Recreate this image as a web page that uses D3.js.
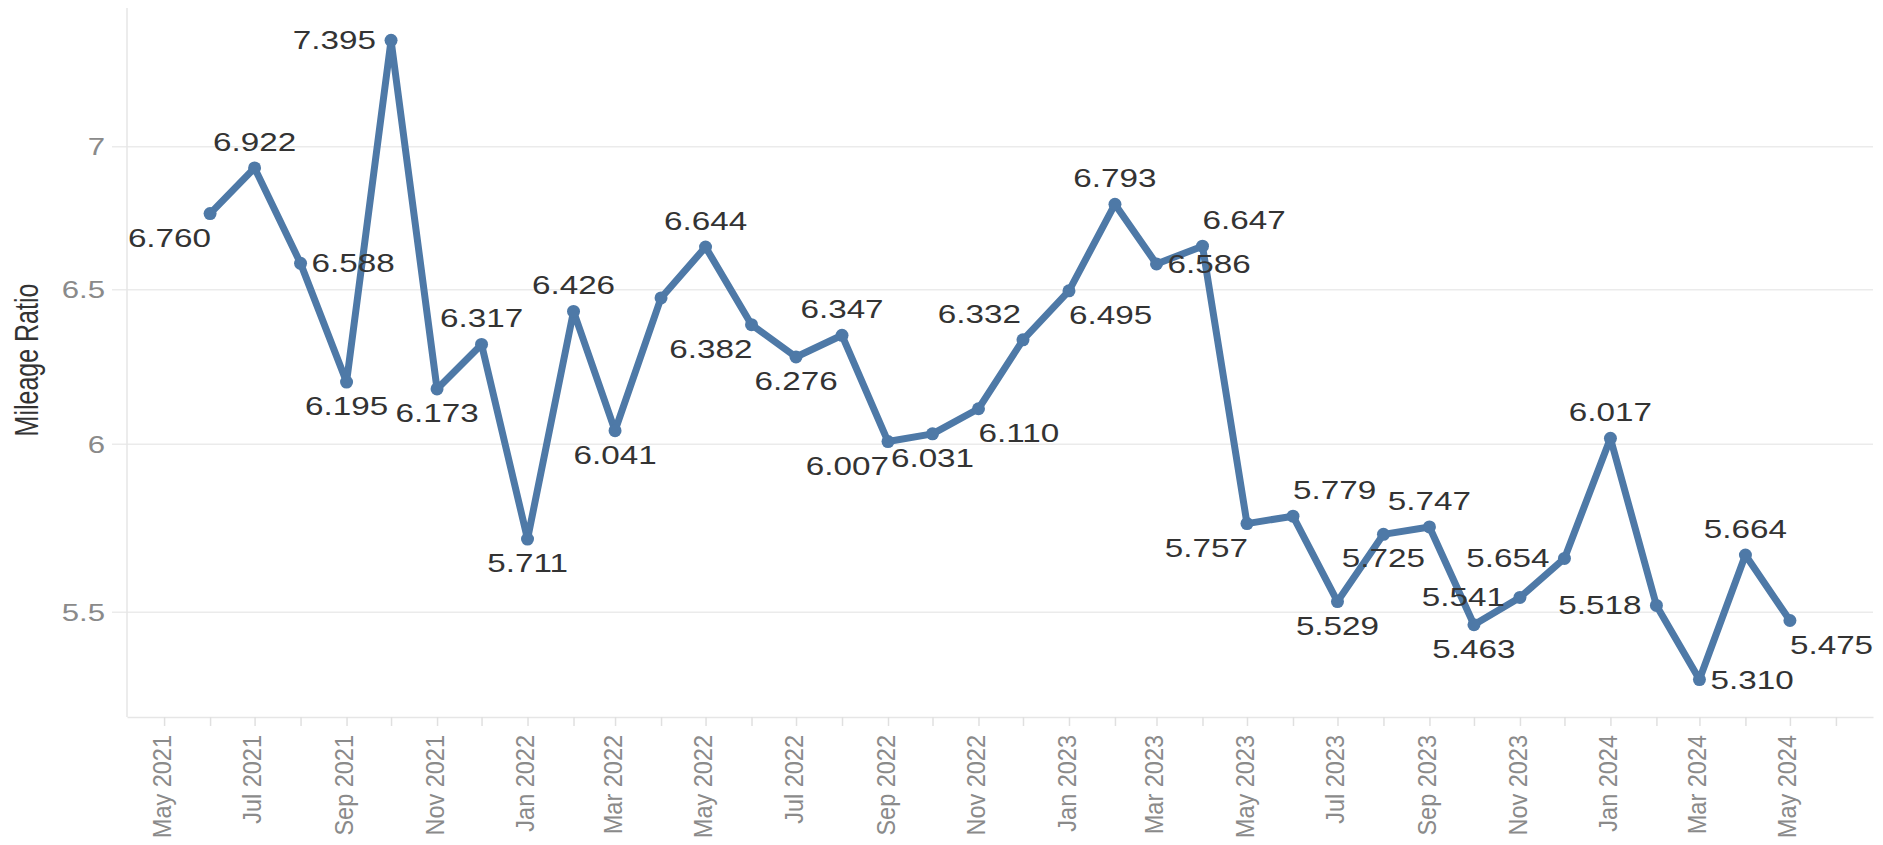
<!DOCTYPE html>
<html>
<head>
<meta charset="utf-8">
<script src="https://cdn.jsdelivr.net/npm/d3@7"></script>
<style>
  html, body { margin: 0; padding: 0; background: #fff; }
  svg { display: block; font-family: "Liberation Sans", Arial, sans-serif; }
</style>
</head>
<body>
<svg id="chart" width="1883" height="845"></svg>
<script>
// monthly values, Jun 2021 .. May 2024
const MONTHS = [
  "Jun 2021", "Jul 2021", "Aug 2021", "Sep 2021", "Oct 2021", "Nov 2021", "Dec 2021",
  "Jan 2022", "Feb 2022", "Mar 2022", "Apr 2022", "May 2022", "Jun 2022", "Jul 2022",
  "Aug 2022", "Sep 2022", "Oct 2022", "Nov 2022", "Dec 2022", "Jan 2023", "Feb 2023",
  "Mar 2023", "Apr 2023", "May 2023", "Jun 2023", "Jul 2023", "Aug 2023", "Sep 2023",
  "Oct 2023", "Nov 2023", "Dec 2023", "Jan 2024", "Feb 2024", "Mar 2024", "Apr 2024",
  "May 2024"
];
const RATIOS = [
  6.760, 6.922, 6.588, 6.195, 7.395, 6.173, 6.317,
  5.711, 6.426, 6.041, 6.471, 6.644, 6.382, 6.276,
  6.347, 6.007, 6.031, 6.110, 6.332, 6.495, 6.793,
  6.586, 6.647, 5.757, 5.779, 5.529, 5.725, 5.747,
  5.463, 5.541, 5.654, 6.017, 5.518, 5.310, 5.664,
  5.475
];
// where Tableau put each mark label (null = no label)
const LABEL_POS = [
  "leftbelow", "above", "right", "below", "left", "below", "above",
  "below", "above", "below", null, "above", "leftbelow", "below",
  "above", "leftbelow", "below", "rightbelow", "leftabove", "rightbelow", "above",
  "right", "rightabove", "leftbelow", "rightabove", "below", "below", "above",
  "below", "left", "left", "above", "left", "right", "above",
  "rightbelow"
];
const Y_TICKS = [5.5, 6, 6.5, 7];
const Y_TITLE = "Mileage Ratio";

const svg = d3.select("#chart");
const width = 1883;
const height = 845;
const MARGIN = { top: 8, right: 10, bottom: 128, left: 127 };
const plotW = width - MARGIN.left - MARGIN.right;
const plotH = height - MARGIN.top - MARGIN.bottom;

const BLUE = "#4e79a7";

const parseMonth = d3.timeParse("%b %Y");
const fmtMonth = d3.timeFormat("%b %Y");
const data = MONTHS.map((m, i) => ({ date: parseMonth(m), value: RATIOS[i], pos: LABEL_POS[i] }));

const x = d3.scaleTime()
  .domain([new Date(2021, 3, 6), new Date(2024, 5, 26)])
  .range([0, plotW]);

const y = d3.scaleLog()
  .domain([5.208, 7.52])
  .range([plotH, 0]);

const g = svg.append("g").attr("transform", `translate(${MARGIN.left},${MARGIN.top})`);

// y axis + gridlines
const yAxis = g.append("g")
  .call(d3.axisLeft(y).tickValues(Y_TICKS).tickSize(-plotW).tickFormat(d3.format("")));
yAxis.select(".domain").remove();
yAxis.selectAll(".tick line")
  .attr("x1", -15)
  .attr("stroke", "#ebebeb")
  .attr("stroke-width", 1.5);
yAxis.selectAll(".tick text")
  .attr("x", 0)
  .attr("dy", "0.36em")
  .attr("transform", "translate(-22,0) scale(1.3,1)")
  .attr("text-anchor", "end")
  .attr("font-size", 24)
  .attr("font-family", "Liberation Sans, Arial, sans-serif")
  .attr("fill", "#8a8a8a");

// left axis rule
g.append("line")
  .attr("x1", 0).attr("x2", 0)
  .attr("y1", 0).attr("y2", plotH)
  .attr("stroke", "#e6e6e6")
  .attr("stroke-width", 1.5);

// x axis
const xAxis = g.append("g")
  .attr("transform", `translate(0,${plotH})`)
  .call(d3.axisBottom(x)
    .ticks(d3.timeMonth.every(1))
    .tickSizeInner(9)
    .tickSizeOuter(0)
    .tickFormat((d) => (d.getMonth() % 2 === 0 ? fmtMonth(d) : "")));
xAxis.select(".domain")
  .attr("stroke", "#e6e6e6")
  .attr("stroke-width", 1.5);
xAxis.selectAll(".tick line")
  .attr("stroke", "#e0e0e0")
  .attr("stroke-width", 1.5);
xAxis.selectAll(".tick text")
  .attr("x", 0)
  .attr("y", 0)
  .attr("dy", "0.35em")
  .attr("transform", "translate(-3,18) rotate(-90) scale(1,1.1)")
  .attr("text-anchor", "end")
  .attr("font-size", 23.5)
  .attr("font-family", "Liberation Sans, Arial, sans-serif")
  .attr("fill", "#8a8a8a");

// y title
svg.append("text")
  .attr("transform", "translate(27,360) rotate(-90) scale(1,1.3)")
  .attr("dy", "0.35em")
  .attr("text-anchor", "middle")
  .attr("font-size", 25)
  .attr("fill", "#333")
  .text(Y_TITLE);

// line + marks
const line = d3.line()
  .x((d) => x(d.date))
  .y((d) => y(d.value));

g.append("path")
  .datum(data)
  .attr("d", line)
  .attr("fill", "none")
  .attr("stroke", BLUE)
  .attr("stroke-width", 7)
  .attr("stroke-linejoin", "round")
  .attr("stroke-linecap", "round");

g.append("g")
  .selectAll("circle")
  .data(data)
  .join("circle")
  .attr("cx", (d) => x(d.date))
  .attr("cy", (d) => y(d.value))
  .attr("r", 6.5)
  .attr("fill", BLUE);

// label offsets: [dx, dy, anchor]
const OFFSETS = {
  above: [0, -17, "middle"],
  below: [0, 33, "middle"],
  left: [-15, 9, "end"],
  right: [11, 9, "start"],
  leftbelow: [1, 33, "end"],
  rightbelow: [0, 33, "start"],
  leftabove: [-2, -17, "end"],
  rightabove: [0, -17, "start"],
};

g.append("g")
  .selectAll("text")
  .data(data.filter((d) => d.pos))
  .join("text")
  .attr("transform", (d) => {
    const [dx, dy] = OFFSETS[d.pos];
    return `translate(${x(d.date) + dx},${y(d.value) + dy}) scale(1.33,1)`;
  })
  .attr("text-anchor", (d) => OFFSETS[d.pos][2])
  .attr("font-size", 25)
  .attr("fill", "#333")
  .text((d) => d3.format(".3f")(d.value));
</script>
</body>
</html>
